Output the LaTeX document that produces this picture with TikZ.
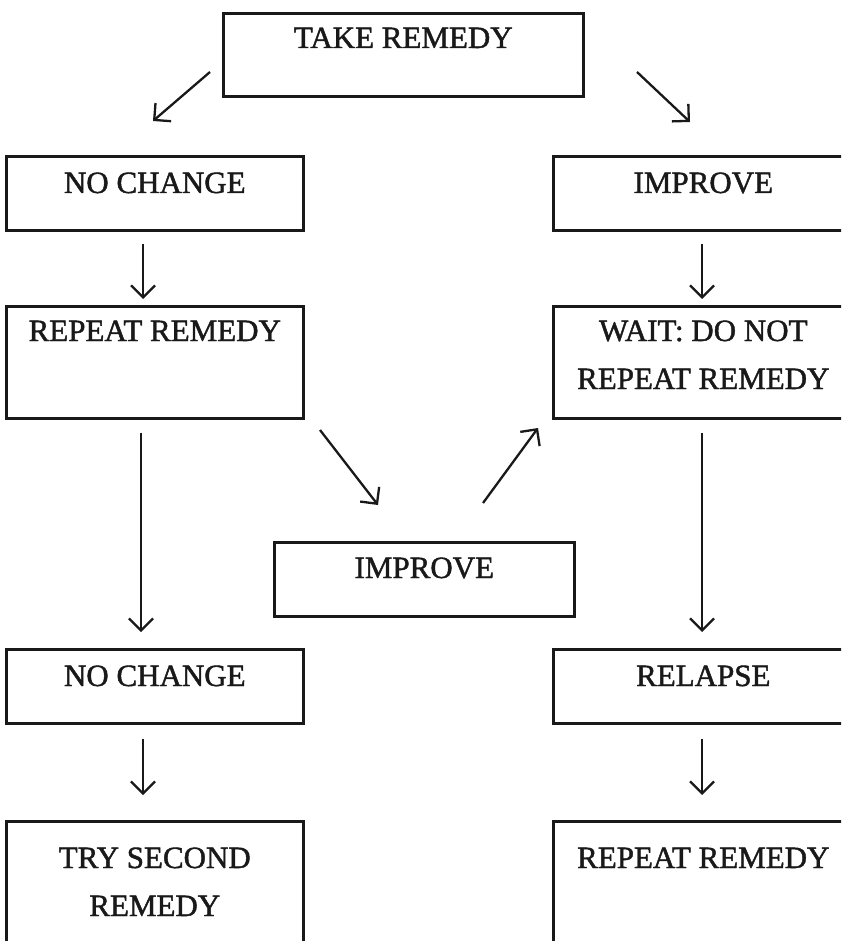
\documentclass[tikz,border=0pt]{standalone}
\usepackage{fontspec}
\setmainfont{Liberation Serif}[FakeBold=1.4]
\usetikzlibrary{arrows.meta}
\begin{document}
\begin{tikzpicture}[x=1pt,y=-1pt,
  box/.style={draw=black!90, line width=2.6pt, rectangle, minimum width=#1, minimum height=74pt, inner sep=0pt, anchor=north west},
  box/.default=297pt,
  lbl/.style={anchor=base, font=\fontsize{31}{48}\selectfont, align=center, text=black!90, inner sep=0pt},
  arr/.style={draw=black!90, line width=2.3pt, -{Straight Barb[length=12pt,width=24pt,line width=2.3pt]}}]
\useasboundingbox (0,0) rectangle (841,941);
\clip (0,0) rectangle (841,941);
% boxes
\node[box=360pt, minimum height=83pt] (take) at (222,12) {};
\node[box] (nc1) at (5,155) {};
\node[box=300pt] (imp1) at (552,155) {};
\node[box, minimum height=112pt] (rep1) at (5,305) {};
\node[box=300pt, minimum height=112pt] (wait) at (552,305) {};
\node[box=300pt] (imp2) at (273,541) {};
\node[box] (nc2) at (5,648) {};
\node[box=300pt] (rel) at (552,648) {};
\node[box, minimum height=140pt] (try) at (5,820) {};
\node[box=300pt, minimum height=140pt] (rep2) at (552,820) {};
% labels
\node[lbl] at ([yshift=-36pt]take.north) {TAKE REMEDY};
\node[lbl] at ([yshift=-38pt]nc1.north) {NO CHANGE};
\node[lbl] at ([yshift=-38pt]imp1.north) {IMPROVE};
\node[lbl] at ([yshift=-36pt]rep1.north) {REPEAT REMEDY};
\node[lbl] at ([yshift=-84pt]wait.north) {WAIT: DO NOT\\REPEAT REMEDY};
\node[lbl] at ([yshift=-37pt]imp2.north) {IMPROVE};
\node[lbl] at ([yshift=-38pt]nc2.north) {NO CHANGE};
\node[lbl] at ([yshift=-38pt]rel.north) {RELAPSE};
\node[lbl] at ([yshift=-96pt]try.north) {TRY SECOND\\REMEDY};
\node[lbl] at ([yshift=-48pt]rep2.north) {REPEAT REMEDY};
% connectors
\coordinate (a1s) at (210,72); \coordinate (a1e) at (153,121);
\coordinate (a2s) at (637,72); \coordinate (a2e) at (690,122);
\draw[arr] (a1s) -- (a1e);
\draw[arr] (a2s) -- (a2e);
\draw[arr] ([yshift=-12pt]nc1.south -| 143,0) -- ([yshift=6pt]rep1.north -| 143,0);
\draw[arr] ([yshift=-12pt]imp1.south -| 702,0) -- ([yshift=6pt]wait.north -| 702,0);
\coordinate (a3s) at (320,430); \coordinate (a3e) at (378,505);
\coordinate (a4s) at (483,503); \coordinate (a4e) at (538,428);
\draw[arr] (a3s) -- (a3e);
\draw[arr] (a4s) -- (a4e);
\draw[arr] ([yshift=-13pt]rep1.south -| 141,0) -- ([yshift=16pt]nc2.north -| 141,0);
\draw[arr] ([yshift=-13pt]wait.south -| 702,0) -- ([yshift=16pt]rel.north -| 702,0);
\draw[arr] ([yshift=-14pt]nc2.south -| 143,0) -- ([yshift=25pt]try.north -| 143,0);
\draw[arr] ([yshift=-14pt]rel.south -| 702,0) -- ([yshift=25pt]rep2.north -| 702,0);
\end{tikzpicture}
\end{document}
